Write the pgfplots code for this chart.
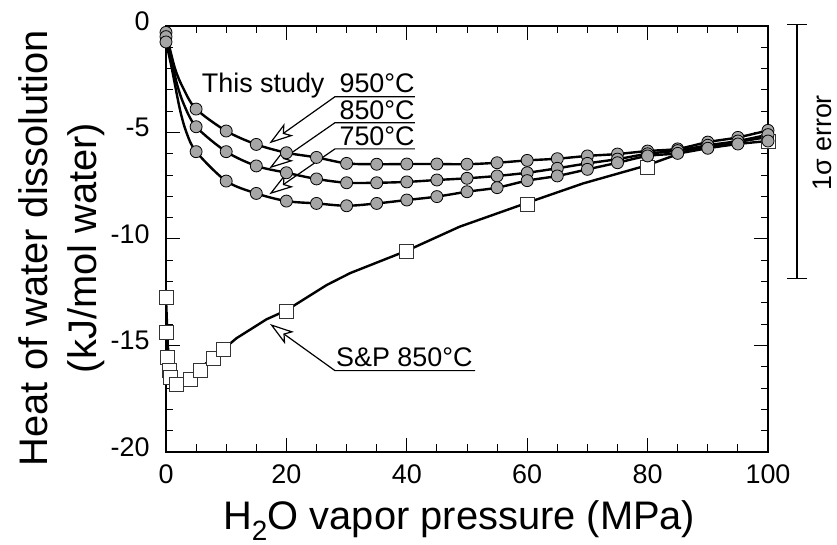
\documentclass[border=0pt]{standalone}
\usepackage{fontspec}
\setmainfont{Liberation Sans}
\usepackage{pgfplots}
\pgfplotsset{compat=1.18}
\usetikzlibrary{arrows.meta}

\begin{document}
\begin{tikzpicture}
\path[use as bounding box] (-166bp,-93bp) rectangle (671bp,452bp);
\begin{axis}[
  at={(0,0)}, anchor=south west,
  scale only axis, width=602bp, height=426bp,
  xmin=0, xmax=100, ymin=-20, ymax=0,
  clip=false,
  xtick={0,20,40,60,80,100}, xticklabels={0,20,40,60,80,100},
  ytick={-20,-15,-10,-5,0}, yticklabels={-20,-15,-10,-5,0},
  minor x tick num=3, minor y tick num=4,
  tick align=inside,
  major tick length=14bp, minor tick length=7.5bp,
  axis line style={line width=1.2bp},
  every tick/.append style={line width=1bp, black},
  ticklabel style={font=\fontsize{27}{32}\selectfont},
  xticklabel style={yshift=-9bp},
  yticklabel style={xshift=-13bp, yshift=5bp},
  xlabel={H\textsubscript{2}O vapor pressure (MPa)},
  ylabel={Heat of water dissolution\\(kJ/mol water)},
  xlabel style={at={(axis description cs:0.487,-0.183)}, anchor=base, inner sep=0pt, font=\fontsize{40}{48}\selectfont},
  ylabel style={at={(axis description cs:-0.1733,0.479)}, anchor=center, inner sep=0pt, align=center, font=\fontsize{40}{50}\selectfont},
  curve/.style={no marks, black, line width=2.4bp},
  dots/.style={only marks, mark=*, mark size=6bp, mark options={fill=black!35, draw=black, line width=0.8bp}},
]
% S&P 850 C
\addplot[no marks, black, line width=2.4bp] coordinates {
  (0,-12.75) (0.3,-15.0) (0.8,-16.6) (1.8,-16.8) (4,-16.45) (5.6,-16.07)
  (8.4,-15.45) (11.7,-14.66) (16.7,-13.77) (20,-13.35) (22.3,-12.94)
  (26.7,-12.16) (30.6,-11.6) (40,-10.55) (48.8,-9.42) (60,-8.3)
  (69.3,-7.39) (79.8,-6.55) (87,-5.82) (98.7,-5.27) (100,-5.2)};
\addplot[only marks, mark=square*, mark size=7bp, mark options={fill=white, draw=black!80, line width=0.9bp}] coordinates {
  (0,-12.75) (0,-14.4) (0.2,-15.55) (0.5,-16.15) (0.8,-16.5) (1.7,-16.85)
  (4,-16.6) (5.8,-16.15) (7.8,-15.6) (9.6,-15.2) (20,-13.4) (40,-10.6)
  (60,-8.4) (80,-6.65) (100,-5.4)};
% this study, lines
\addplot[curve, smooth] coordinates {
  (0,-0.3) (1.5,-2.0) (3,-3.0) (5,-3.9) (10,-4.93) (15,-5.56) (20,-5.95)
  (25,-6.17) (30,-6.45) (35,-6.49) (40,-6.48) (45,-6.48) (50,-6.49)
  (55,-6.42) (60,-6.31) (65,-6.23) (70,-6.10) (75,-6.01) (80,-5.87)
  (85,-5.77) (90,-5.45) (95,-5.23) (100,-4.9)};
\addplot[curve, smooth] coordinates {
  (0,-0.5) (0.7,-1.3) (1.8,-2.7) (3,-3.7) (5,-4.73) (10,-5.90) (15,-6.57)
  (20,-6.89) (25,-7.18) (30,-7.36) (35,-7.36) (40,-7.32) (45,-7.23)
  (50,-7.15) (55,-7.04) (60,-6.89) (65,-6.68) (70,-6.45) (75,-6.25)
  (80,-6.0) (85,-5.85) (90,-5.6) (95,-5.4) (100,-5.1)};
\addplot[curve, smooth] coordinates {
  (0,-0.75) (0.9,-1.9) (2.3,-3.9) (3.4,-5.0) (5,-5.90) (10,-7.28)
  (15,-7.86) (20,-8.22) (25,-8.33) (30,-8.44) (35,-8.33) (40,-8.17)
  (45,-8.01) (50,-7.78) (55,-7.59) (60,-7.26) (65,-7.04) (70,-6.73)
  (75,-6.42) (80,-6.10) (85,-5.98) (90,-5.74) (95,-5.54) (100,-5.4)};
% this study, points
\addplot[dots] coordinates {
  (0,-0.3) (5,-3.9) (10,-4.93) (15,-5.56) (20,-5.95) (25,-6.17) (30,-6.45)
  (35,-6.49) (40,-6.48) (45,-6.48) (50,-6.49) (55,-6.42) (60,-6.31)
  (65,-6.23) (70,-6.10) (75,-6.01) (80,-5.87) (85,-5.77) (90,-5.45)
  (95,-5.23) (100,-4.9)};
\addplot[dots] coordinates {
  (0,-0.5) (5,-4.73) (10,-5.90) (15,-6.57) (20,-6.89) (25,-7.18) (30,-7.36)
  (35,-7.36) (40,-7.32) (45,-7.23) (50,-7.15) (55,-7.04) (60,-6.89)
  (65,-6.68) (70,-6.45) (75,-6.25) (80,-6.0) (85,-5.85) (90,-5.6)
  (95,-5.4) (100,-5.1)};
\addplot[dots] coordinates {
  (0,-0.75) (5,-5.90) (10,-7.28) (15,-7.86) (20,-8.22) (25,-8.33) (30,-8.44)
  (35,-8.33) (40,-8.17) (45,-8.01) (50,-7.78) (55,-7.59) (60,-7.26)
  (65,-7.04) (70,-6.73) (75,-6.42) (80,-6.10) (85,-5.98) (90,-5.74)
  (95,-5.54) (100,-5.4)};

% annotations
\tikzset{lead/.style={line width=1.2bp, -{Stealth[open, fill=white, length=24bp, width=15bp, inset=6bp]}}}
\node[anchor=base west, inner sep=0, font=\fontsize{27}{32}\selectfont] at (5.93,-3.10) {This study};
\node[anchor=base west, inner sep=0, font=\fontsize{27}{32}\selectfont] at (28.8,-3.13) {950°C};
\node[anchor=base west, inner sep=0, font=\fontsize{27}{32}\selectfont] at (28.8,-4.37) {850°C};
\node[anchor=base west, inner sep=0, font=\fontsize{27}{32}\selectfont] at (28.8,-5.62) {750°C};
\draw[lead] (41.36,-3.32) -- (28.07,-3.32) -- (17.16,-5.51);
\draw[lead] (41.36,-4.54) -- (28.07,-4.54) -- (17.16,-6.68);
\draw[lead] (41.36,-5.77) -- (28.07,-5.77) -- (17.16,-7.90);
\node[anchor=base west, inner sep=0, font=\fontsize{27}{32}\selectfont] at (28.24,-16.0) {S\&P 850°C};
\draw[lead] (51.33,-16.18) -- (28.07,-16.18) -- (17.28,-13.99);
% 1 sigma error bar
\draw[line width=1.4bp, {Bar[width=20bp]}-{Bar[width=20bp]}] (104.82,0.09) -- (104.82,-11.88);
\node[rotate=90, anchor=base, inner sep=0, font=\fontsize{27}{32}\selectfont] at (110.6,-5.49) {1σ error};
\end{axis}
\end{tikzpicture}
\end{document}
